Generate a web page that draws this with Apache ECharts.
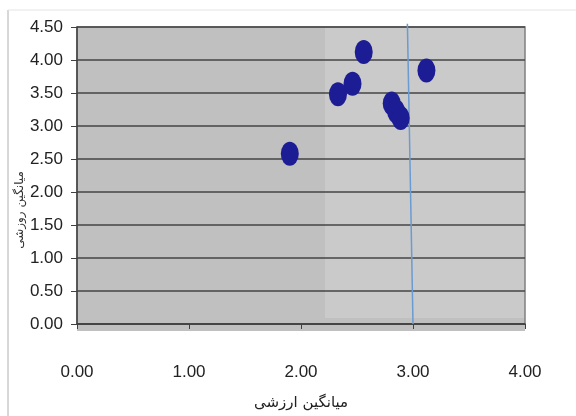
<!DOCTYPE html>
<html><head><meta charset="utf-8">
<script src="https://cdn.jsdelivr.net/npm/echarts@6/dist/echarts.min.js"></script>
<style>html,body{margin:0;padding:0;background:#fff}#c{width:576px;height:416px}</style>
</head><body><div id="c"></div>
<script>
const xValues = [2.56, 3.12, 2.46, 2.33, 2.81, 2.85, 2.89, 1.90];
const yValues = [4.12, 3.84, 3.64, 3.48, 3.34, 3.22, 3.12, 2.58];
const refLineX = [2.95, 3.00];
const refLineY = [4.55, 0.00];
const xTitle = 'میانگین ارزشی';
const yTitle = 'میانگین روزشی';

const chart = echarts.init(document.getElementById('c'), null, {renderer: 'canvas'});
const pts = xValues.map((x, i) => [x, yValues[i]]);
const refLine = refLineX.map((x, i) => [x, refLineY[i]]);
const L = 77, T = 27, R = 525, B = 331;
chart.setOption({
  animation: false,
  backgroundColor: '#ffffff',
  grid: {left: L, right: 576 - R, top: T, bottom: 416 - B, show: true, borderColor: '#808080', borderWidth: 1.5, backgroundColor: 'transparent'},
  graphic: [
    {type: 'rect', z: -10, shape: {x: L, y: T, width: R - L, height: B - T}, style: {fill: '#c0c0c0'}},
    {type: 'rect', z: -9, shape: {x: 325, y: T, width: R - 325, height: 318 - T}, style: {fill: '#cacaca'}},
    {type: 'line', z: -10, shape: {x1: 8, y1: 10, x2: 8, y2: 416}, style: {stroke: '#b0b0b0', lineWidth: 1}},
    {type: 'line', z: -10, shape: {x1: 8, y1: 10, x2: 576, y2: 10}, style: {stroke: '#e4e4e4', lineWidth: 1}},
    {type: 'text', z: 5, x: 20, y: 210, rotation: Math.PI / 2,
     style: {text: yTitle, font: '12px "DejaVu Sans", sans-serif', fill: '#333', align: 'center', verticalAlign: 'middle'}}
  ],
  xAxis: {
    type: 'value', min: 0, max: 4, interval: 1,
    axisLine: {show: true, onZero: false, lineStyle: {color: '#404040', width: 1.5}},
    axisTick: {show: true, length: 5, lineStyle: {color: '#404040'}},
    axisLabel: {formatter: v => v.toFixed(2), fontFamily: 'Liberation Sans, Arial', fontSize: 17, color: '#222', margin: 40},
    splitLine: {show: false},
    name: xTitle, nameLocation: 'middle', nameGap: 72,
    nameTextStyle: {fontFamily: 'DejaVu Sans', fontSize: 15, color: '#222'}
  },
  yAxis: {
    type: 'value', min: 0, max: 4.5, interval: 0.5,
    axisLine: {show: true, onZero: false, lineStyle: {color: '#404040', width: 1.5}},
    axisTick: {show: true, length: 6, lineStyle: {color: '#404040'}},
    axisLabel: {formatter: v => v.toFixed(2), fontFamily: 'Liberation Sans, Arial', fontSize: 17, color: '#222', margin: 14},
    splitLine: {show: true, lineStyle: {color: '#454545', width: 1.5}}
  },
  series: [
    {type: 'line', data: refLine, symbol: 'none', clip: false, z: 3,
     lineStyle: {color: '#6a9bd1', width: 1.5}, silent: true},
    {type: 'scatter', data: pts, symbol: 'circle', symbolSize: [18, 24], z: 4,
     itemStyle: {color: '#1c1c94', opacity: 1}}
  ]
});
</script></body></html>
